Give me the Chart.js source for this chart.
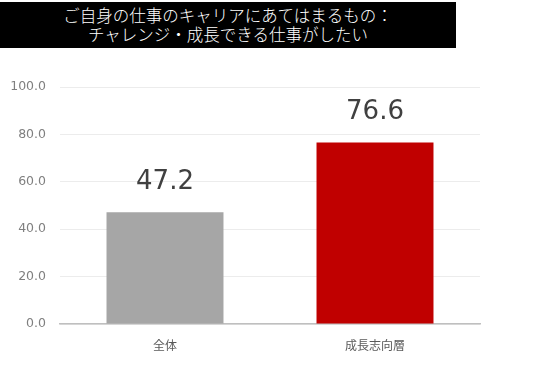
<!DOCTYPE html>
<html lang="ja">
<head>
<meta charset="utf-8">
<script src="https://cdn.jsdelivr.net/npm/chart.js@4"></script>
<style>
  html, body { margin: 0; padding: 0; background: #fff; }
  #wrap { position: relative; width: 536px; height: 366px; }
  #title {
    position: absolute; left: 0; top: 2px; width: 456px; height: 46px;
    background: #000; color: #fff; text-align: center;
    font-family: "Noto Sans CJK JP", sans-serif; font-weight: 300; font-size: 16.5px; line-height: 19px;
    padding-top: 4px; box-sizing: border-box;
  }
  canvas { position: absolute; left: 0; top: 0; }
</style>
</head>
<body>
<div id="wrap">
  <canvas id="chart" width="536" height="366"></canvas>
  <div id="title">ご自身の仕事のキャリアにあてはまるもの：<br>チャレンジ・成長できる仕事がしたい</div>
</div>
<script>
const categories = ['全体', '成長志向層'];
const values = [47.2, 76.6];
const barColors = ['#a6a6a6', '#c00000'];
const yTicks = [0, 20, 40, 60, 80, 100];

// draw the value above each bar
const valueLabels = {
  id: 'valueLabels',
  afterDatasetsDraw(chart) {
    const ctx = chart.ctx;
    const meta = chart.getDatasetMeta(0);
    ctx.save();
    ctx.font = '26px "DejaVu Sans", sans-serif';
    ctx.fillStyle = '#404040';
    ctx.textAlign = 'center';
    ctx.textBaseline = 'bottom';
    meta.data.forEach((bar, i) => {
      ctx.fillText(values[i].toFixed(1), bar.x, bar.y - 17);
    });
    ctx.restore();
  }
};

new Chart(document.getElementById('chart'), {
  type: 'bar',
  data: {
    labels: categories,
    datasets: [{
      data: values,
      backgroundColor: barColors,
      categoryPercentage: 0.557,
      barPercentage: 1
    }]
  },
  options: {
    responsive: false,
    animation: false,
    layout: { padding: { top: 87, right: 56, left: 0, bottom: 0 } },
    plugins: { legend: { display: false }, tooltip: { enabled: false } },
    scales: {
      y: {
        min: 0, max: 100,
        afterBuildTicks(scale) { scale.ticks = yTicks.map(v => ({ value: v })); },
        afterFit(scale) { scale.width = 60; },
        ticks: {
          padding: 14,
          color: '#7f7f7f',
          font: { family: '"DejaVu Sans", sans-serif', size: 12.5 },
          callback: v => v.toFixed(1)
        },
        grid: { color: '#ececec', drawTicks: false },
        border: { display: false }
      },
      x: {
        afterFit(scale) { scale.height = 42; },
        ticks: {
          padding: 14,
          color: '#595959',
          font: { family: '"Noto Sans CJK JP", sans-serif', size: 12 }
        },
        grid: { display: false, drawTicks: false },
        border: { color: '#bfbfbf', width: 1.5 }
      }
    }
  },
  plugins: [valueLabels]
});
</script>
</body>
</html>
